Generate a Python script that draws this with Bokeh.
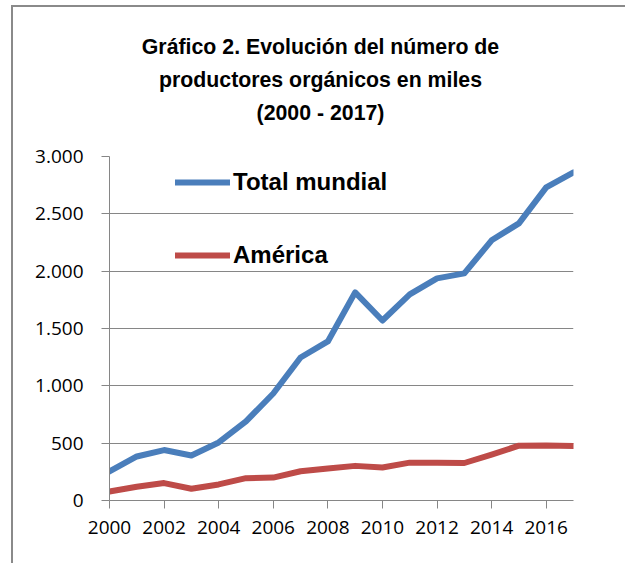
from bokeh.plotting import figure
from bokeh.layouts import column
from bokeh.models import FixedTicker, Label, Legend, LegendItem
from bokeh.embed import file_html
from bokeh.resources import INLINE

years = list(range(2000, 2018))
total_mundial = [253, 384, 440, 393, 506, 690, 933, 1247, 1387, 1815, 1570, 1797, 1937, 1981, 2269, 2417, 2731, 2862]
america = [79, 120, 152, 102, 140, 195, 200, 255, 280, 302, 288, 330, 330, 327, 400, 478, 480, 475]
series_names = ["Total mundial", "América"]
y_ticks = [0, 500, 1000, 1500, 2000, 2500, 3000]
y_tick_labels = ["0", "500", "1.000", "1.500", "2.000", "2.500", "3.000"]
x_ticks = [2000, 2002, 2004, 2006, 2008, 2010, 2012, 2014, 2016]
title_lines = ["Gráfico 2. Evolución del número de", "productores orgánicos en miles", "(2000 - 2017)"]

GRID = "#868686"
TICK_FONT = "Open Sans"
BOLD_FONT = "Liberation Sans"
W = 612
TITLE_H = 129
BL, BR = 96, 52
FRAME_W = W - BL - BR

# title panel (frame aligned with the chart frame below)
t = figure(width=W, height=TITLE_H, output_backend="svg", toolbar_location=None,
           x_range=(0, FRAME_W), y_range=(0, TITLE_H), x_axis_type=None, y_axis_type=None,
           min_border_left=BL, min_border_right=BR, min_border_top=0, min_border_bottom=0)
t.outline_line_color = None
t.xgrid.grid_line_color = None
t.ygrid.grid_line_color = None
for i, line in enumerate(title_lines):
    t.add_layout(Label(x=211, y=TITLE_H - 39 - 33 * i, text=line,
                       text_align="center", text_baseline="middle",
                       text_font=BOLD_FONT, text_font_style="bold", text_font_size="21.3px",
                       text_color="black"))

# main chart
p = figure(width=W, height=556 - TITLE_H, output_backend="svg", toolbar_location=None,
           x_range=(2000, 2017), y_range=(0, 3000),
           min_border_left=BL, min_border_right=BR, min_border_top=20, min_border_bottom=63)
p.outline_line_color = None

l1 = p.line(years, total_mundial, line_color="#4A7EBB", line_width=6, line_cap="round", line_join="round")
l2 = p.line(years, america, line_color="#BE4B48", line_width=6, line_cap="round", line_join="round")

legend = Legend(items=[LegendItem(label=series_names[0], renderers=[l1]),
                       LegendItem(label=series_names[1], renderers=[l2])],
                location=(66, 230), orientation="vertical",
                padding=0, margin=0, spacing=43, glyph_width=55, glyph_height=30,
                label_height=30, label_standoff=3,
                label_text_font=BOLD_FONT, label_text_font_style="bold", label_text_font_size="24px",
                label_text_color="black", border_line_color=None, background_fill_alpha=0)
p.add_layout(legend)

p.xgrid.grid_line_color = None
p.ygrid.grid_line_color = GRID
p.ygrid.grid_line_width = 1
p.ygrid.ticker = FixedTicker(ticks=y_ticks)

p.yaxis.ticker = FixedTicker(ticks=y_ticks)
p.yaxis.major_label_overrides = {tk: s for tk, s in zip(y_ticks, y_tick_labels)}
p.xaxis.ticker = FixedTicker(ticks=x_ticks)
for ax in (p.xaxis, p.yaxis):
    ax.axis_line_color = GRID
    ax.axis_line_width = 1
    ax.major_tick_line_color = GRID
    ax.major_tick_in = 0
    ax.major_tick_out = 8
    ax.minor_tick_line_color = None
    ax.major_label_text_font = TICK_FONT
    ax.major_label_text_font_size = "19px"
    ax.major_label_text_color = "black"
p.yaxis.major_label_standoff = 18
p.xaxis.major_label_standoff = 12

page = column(t, p, spacing=0)
page.styles = {"border-top": "2px solid #8a8a8a", "border-left": "2px solid #8a8a8a",
               "margin-left": "11px", "margin-top": "5px"}

open("out.html", "w").write(file_html(page, INLINE))
